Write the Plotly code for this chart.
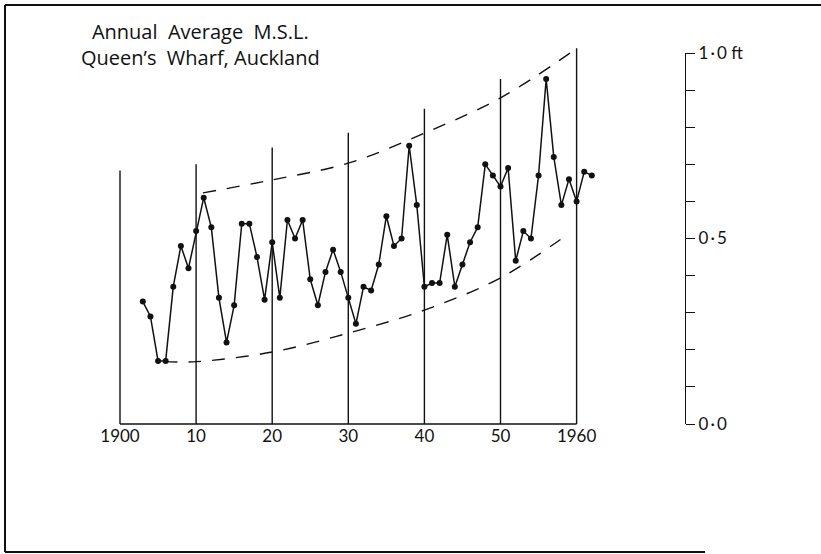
import plotly.graph_objects as go

# ---- data ----
years = list(range(1903, 1963))
msl_ft = [0.33, 0.29, 0.17, 0.17, 0.37, 0.48, 0.42, 0.52, 0.61, 0.53,
          0.34, 0.22, 0.32, 0.54, 0.54, 0.45, 0.335, 0.49, 0.34, 0.55,
          0.50, 0.55, 0.39, 0.32, 0.41, 0.47, 0.41, 0.34, 0.27, 0.37,
          0.36, 0.43, 0.56, 0.48, 0.50, 0.75, 0.59, 0.37, 0.38, 0.38,
          0.51, 0.37, 0.43, 0.49, 0.53, 0.70, 0.67, 0.64, 0.69, 0.44,
          0.52, 0.50, 0.67, 0.93, 0.72, 0.59, 0.66, 0.60, 0.68, 0.67]

upper_years = [1910.9, 1920, 1930, 1940, 1950, 1959.5]
upper_vals = [0.623, 0.658, 0.703, 0.784, 0.879, 1.005]
lower_years = [1905.8, 1910, 1920, 1930, 1940, 1950, 1958.9]
lower_vals = [0.168, 0.168, 0.194, 0.245, 0.307, 0.394, 0.512]

decades = [1900, 1910, 1920, 1930, 1940, 1950, 1960]
decade_tops = [0.683, 0.70, 0.745, 0.785, 0.85, 0.93, 1.013]
decade_labels = ["1900", "10", "20", "30", "40", "50", "1960"]

ft_ticks = [round(i * 0.1, 1) for i in range(11)]
ft_labels = ["0\u2009·\u20090", "", "", "", "", "0\u2009·\u20095", "", "", "", "", "1\u2009·\u20090 ft"]

title_lines = ["Annual&nbsp;&nbsp;Average&nbsp;&nbsp;M.S.L.", "Queen’s&nbsp;&nbsp;Wharf, Auckland"]

FONT = "Lato"
TITLE_FONT = "Open Sans"
INK = "#111111"

# ---- figure ----
W, H = 821, 554
px_per_year = 7.61
x0_px = 120.0      # pixel of 1900
y0_px = 424.0      # pixel of 0 ft
px_per_ft = 371.0

x_range = [1900 - x0_px / px_per_year, 1900 + (W - x0_px) / px_per_year]
y_range = [(y0_px - H) / px_per_ft, y0_px / px_per_ft]

fig = go.Figure()

# decade vertical lines + baseline
vx, vy = [], []
for d, t in zip(decades, decade_tops):
    vx += [d, d, None]
    vy += [0, t, None]
vx += [decades[0], decades[-1]]
vy += [0, 0]
fig.add_trace(go.Scatter(x=vx, y=vy, mode="lines",
                         line=dict(color=INK, width=1.4),
                         hoverinfo="skip", showlegend=False))

# envelope dashed curves
for xs, ys in [(upper_years, upper_vals), (lower_years, lower_vals)]:
    fig.add_trace(go.Scatter(x=xs, y=ys, mode="lines",
                             line=dict(color=INK, width=1.4, dash="13px,11px", shape="spline"),
                             hoverinfo="skip", showlegend=False))

# data
fig.add_trace(go.Scatter(x=years, y=msl_ft, mode="lines+markers",
                         line=dict(color=INK, width=1.5),
                         marker=dict(color=INK, size=6),
                         showlegend=False))

# invisible trace for right-hand scale
fig.add_trace(go.Scatter(x=[1900], y=[0], yaxis="y2", mode="markers",
                         marker=dict(opacity=0), hoverinfo="skip", showlegend=False))

fig.update_layout(
    width=W, height=H,
    margin=dict(l=0, r=0, t=0, b=0, autoexpand=False),
    paper_bgcolor="white", plot_bgcolor="rgba(0,0,0,0)",
    font=dict(family=FONT, color=INK),
    xaxis=dict(range=x_range, anchor="free", position=(H - y0_px) / H,
               showgrid=False, zeroline=False, showline=False, ticks="",
               tickvals=decades, ticktext=decade_labels,
               tickfont=dict(family=FONT, size=17, color=INK)),
    yaxis=dict(range=y_range, domain=[0, 1], showgrid=False, zeroline=False,
               showline=False, showticklabels=False, ticks=""),
    yaxis2=dict(range=[0, 1], domain=[(H - y0_px) / H, (H - (y0_px - px_per_ft)) / H],
                anchor="free", position=685 / W, side="right",
                showgrid=False, zeroline=False, showline=True, linecolor=INK, linewidth=1.4,
                ticks="outside", ticklen=9, tickwidth=1.3, tickcolor=INK,
                tickvals=ft_ticks, ticktext=ft_labels,
                tickfont=dict(family=FONT, size=17, color=INK)),
    showlegend=False,
)

fig.add_annotation(xref="paper", yref="paper", x=200 / W, y=1 - 44 / H,
                   xanchor="center", yanchor="middle", align="center",
                   text="<br>".join(title_lines), showarrow=False,
                   font=dict(family=TITLE_FONT, size=20, color=INK))

# frame
fw = dict(color=INK, width=2)
fig.add_shape(type="line", xref="paper", yref="paper", x0=5 / W, x1=1, y0=1 - 5 / H, y1=1 - 5 / H, line=fw)
fig.add_shape(type="line", xref="paper", yref="paper", x0=5 / W, x1=5 / W, y0=1 - 5 / H, y1=1 - 552 / H, line=fw)
fig.add_shape(type="line", xref="paper", yref="paper", x0=5 / W, x1=705 / W, y0=1 - 552 / H, y1=1 - 552 / H, line=fw)

fig.write_html("out.html", config={"displayModeBar": False},
               post_script="document.body.style.margin='0';document.body.style.overflow='hidden';")
